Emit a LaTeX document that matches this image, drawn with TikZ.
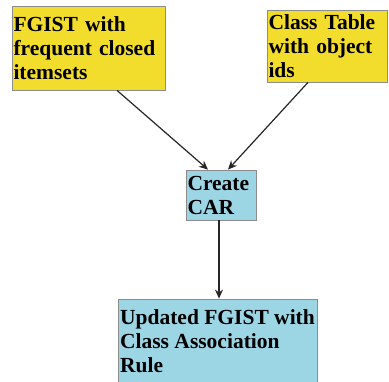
\documentclass[tikz,border=0pt]{standalone}
\usepackage{fontspec}
\setmainfont{Liberation Serif}
\usepackage{xcolor}
\usepackage{tikz}
\usetikzlibrary{arrows.meta}

\definecolor{boxyellow}{RGB}{242,221,44}
\definecolor{boxblue}{RGB}{156,214,229}

\begin{document}
\begin{tikzpicture}[x=1pt,y=1pt,>={Stealth[length=9pt,width=8pt]},
  box/.style={draw=black!45,line width=0.8pt,inner xsep=1.5pt,inner ysep=0pt,align=left,
    font=\bfseries\fontsize{21.5}{24}\selectfont},
  yellowbox/.style={box,fill=boxyellow},
  bluebox/.style={box,fill=boxblue},
  flow/.style={->,black!85,line width=1.2pt}]
  \clip (0,0) rectangle (389,-382);
  \useasboundingbox (0,0) rectangle (389,-382);
  \node[yellowbox,text width=150pt,minimum height=84pt] (fgist) at (88.5,-48) {FGIST with\\frequent closed\\itemsets};
  \node[yellowbox,text width=117pt,minimum height=72pt] (classtab) at (327,-46) {Class Table\\with object\\ids};
  \node[bluebox,text width=67pt,minimum height=50pt] (car) at (221,-195) {Create\\CAR};
  \node[bluebox,minimum width=199pt,minimum height=85pt] (updfgist) at (217.5,-341.5) {Updated FGIST with\\Class Association\\Rule};
  \draw[flow] ([xshift=28.5pt]fgist.south) -- ([xshift=-13pt]car.north);
  \draw[flow] ([xshift=-19pt]classtab.south) -- ([xshift=7pt]car.north);
  \draw[flow] ([xshift=-2pt]car.south) -- ([xshift=-2pt]car.south |- updfgist.north);
\end{tikzpicture}
\end{document}
